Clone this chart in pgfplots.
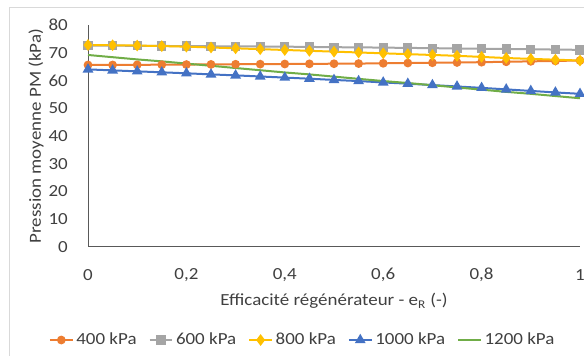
\documentclass[border=0pt]{standalone}
\usepackage{fontspec}
\setmainfont{Carlito}[FakeStretch=1.12]
\usepackage{pgfplots}
\pgfplotsset{compat=1.18}
\definecolor{cA}{HTML}{ED7D31}
\definecolor{cB}{HTML}{A5A5A5}
\definecolor{cC}{HTML}{FFC000}
\definecolor{cD}{HTML}{4472C4}
\definecolor{cE}{HTML}{70AD47}
\definecolor{txt}{HTML}{404040}
\definecolor{frm}{HTML}{D9D9D9}
\definecolor{axl}{HTML}{595959}
\begin{document}
\begin{tikzpicture}
\useasboundingbox (0,0) rectangle (438pt,267pt);
\draw[frm, line width=0.75pt] (6.75pt,-2pt) -- (6.75pt,261pt) -- (442pt,261pt);
\begin{axis}[
  at={(66pt,81.75pt)}, anchor=south west,
  scale only axis, width=369pt, height=166.5pt,
  xmin=0, xmax=1, ymin=0, ymax=80,
  axis x line=bottom, axis y line=left,
  axis line style={-, draw=axl, line width=0.75pt},
  xtick={0,0.2,0.4,0.6,0.8,1},
  xticklabels={0,{0,2},{0,4},{0,6},{0,8},1},
  ytick={0,10,20,30,40,50,60,70,80},
  major tick length=0pt,
  /pgf/number format/assume math mode=true,
  tick label style={font=\fontsize{12.7}{15}\selectfont, text=txt},
  y tick label style={anchor=east, inner sep=0pt, xshift=-15pt},
  x tick label style={anchor=center, inner sep=0pt, yshift=-21pt},
  xlabel={Efficacité régénérateur - e\textsubscript{R} (-)},
  ylabel={Pression moyenne PM (kPa)},
  xlabel style={at={(axis description cs:0.5,-0.2432)}, anchor=center, font=\fontsize{12.7}{15}\selectfont, text=txt},
  ylabel style={at={(axis description cs:-0.1057,0.5)}, anchor=center, font=\fontsize{12.7}{15}\selectfont, text=txt},
  clip=false,
  legend style={at={(axis description cs:0.437,-0.419)}, anchor=center, draw=none, fill=none,
    font=\fontsize{12.7}{15}\selectfont, text=txt, inner sep=0pt,
    /tikz/every even column/.append style={column sep=7pt}},
  legend columns=5,
  every axis plot/.append style={line width=1.5pt},
]
\addplot[cA, mark=*, mark size=2.5pt, mark options={fill=cA, draw=cA}] coordinates {
(0,65.6)(0.05,65.6)(0.1,65.65)(0.15,65.7)(0.2,65.75)(0.25,65.8)(0.3,65.85)(0.35,65.9)(0.4,65.95)(0.45,66.0)(0.5,66.05)(0.55,66.1)(0.6,66.2)(0.65,66.3)(0.7,66.4)(0.75,66.5)(0.8,66.6)(0.85,66.75)(0.9,66.9)(0.95,67.05)(1,67.2)};
\addlegendentry{400 kPa}
\addplot[cB, mark=square*, mark size=2.75pt, mark options={fill=cB, draw=cB}] coordinates {
(0,72.6)(0.05,72.55)(0.1,72.5)(0.15,72.45)(0.2,72.4)(0.25,72.35)(0.3,72.3)(0.35,72.25)(0.4,72.2)(0.45,72.1)(0.5,72.0)(0.55,71.95)(0.6,71.85)(0.65,71.75)(0.7,71.65)(0.75,71.55)(0.8,71.45)(0.85,71.35)(0.9,71.25)(0.95,71.15)(1,71.05)};
\addlegendentry{600 kPa}
\addplot[cC, mark=diamond*, mark size=3.2pt, mark options={fill=cC, draw=cC}] coordinates {
(0,72.8)(0.05,72.7)(0.1,72.6)(0.15,72.4)(0.2,72.2)(0.25,71.9)(0.3,71.6)(0.35,71.3)(0.4,71.0)(0.45,70.7)(0.5,70.4)(0.55,70.1)(0.6,69.8)(0.65,69.5)(0.7,69.2)(0.75,68.9)(0.8,68.5)(0.85,68.1)(0.9,67.8)(0.95,67.5)(1,67.2)};
\addlegendentry{800 kPa}
\addplot[cD, mark=triangle*, mark size=3.2pt, mark options={fill=cD, draw=cD}] coordinates {
(0,64.0)(0.05,63.65)(0.1,63.3)(0.15,62.95)(0.2,62.6)(0.25,62.2)(0.3,61.85)(0.35,61.45)(0.4,61.05)(0.45,60.65)(0.5,60.2)(0.55,59.8)(0.6,59.3)(0.65,58.85)(0.7,58.35)(0.75,57.85)(0.8,57.35)(0.85,56.8)(0.9,56.25)(0.95,55.7)(1,55.2)};
\addlegendentry{1000 kPa}
\addplot[cE, no markers] coordinates {
(0,69.2)(0.05,68.4)(0.1,67.6)(0.15,66.9)(0.2,66.1)(0.25,65.3)(0.3,64.5)(0.35,63.7)(0.4,62.9)(0.45,62.2)(0.5,61.4)(0.55,60.6)(0.6,59.8)(0.65,59.1)(0.7,58.3)(0.75,57.5)(0.8,56.7)(0.85,55.9)(0.9,55.2)(0.95,54.4)(1,53.6)};
\addlegendentry{1200 kPa}
\end{axis}
\end{tikzpicture}
\end{document}
